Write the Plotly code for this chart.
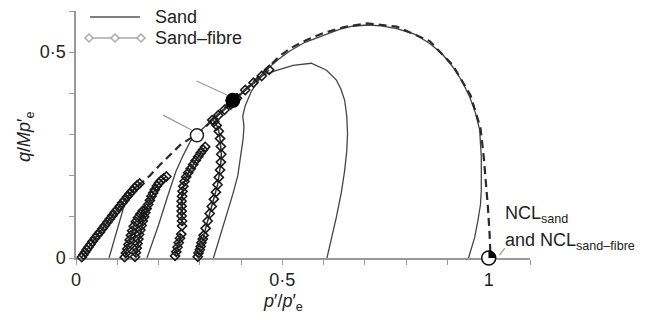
import plotly.graph_objects as go

# ---------------- data ----------------
# Sand (solid lines)
sand1_p = [0.080, 0.092, 0.104, 0.116, 0.128, 0.142, 0.156]
sand1_q = [0.000, 0.040, 0.085, 0.125, 0.150, 0.168, 0.183]

sand2_p = [0.172, 0.200, 0.222, 0.242, 0.260, 0.278, 0.300, 0.340, 0.380, 0.410, 0.440]
sand2_q = [0.000, 0.080, 0.150, 0.210, 0.250, 0.285, 0.308, 0.345, 0.383, 0.410, 0.432]

sand3_p = [0.333, 0.350, 0.366, 0.380, 0.392, 0.400, 0.405, 0.407, 0.404, 0.410, 0.425, 0.445]
sand3_q = [0.000, 0.055, 0.110, 0.155, 0.200, 0.250, 0.290, 0.320, 0.345, 0.370, 0.405, 0.435]

sand4_p = [0.608, 0.620, 0.631, 0.643, 0.651, 0.656, 0.658, 0.656, 0.651, 0.642, 0.631, 0.607,
           0.570, 0.526, 0.486, 0.453, 0.430, 0.400]
sand4_q = [0.000, 0.050, 0.100, 0.160, 0.213, 0.260, 0.302, 0.345, 0.383, 0.410, 0.432, 0.456,
           0.473, 0.468, 0.456, 0.444, 0.425, 0.398]

sand5_p = [0.951, 0.966, 0.974, 0.980, 0.982, 0.982, 0.978, 0.968, 0.954, 0.935, 0.913, 0.887,
           0.857, 0.820, 0.777, 0.740, 0.705, 0.670, 0.640, 0.598, 0.555, 0.518, 0.490, 0.465,
           0.440, 0.415, 0.395]
sand5_q = [0.000, 0.050, 0.092, 0.130, 0.165, 0.246, 0.311, 0.352, 0.391, 0.430, 0.464, 0.496,
           0.521, 0.544, 0.557, 0.564, 0.566, 0.563, 0.556, 0.541, 0.524, 0.503, 0.482, 0.460,
           0.436, 0.412, 0.394]

# Sand-fibre (lines with open diamonds)
fib1_p = [0.014, 0.018, 0.022, 0.026, 0.030, 0.035, 0.040, 0.046, 0.052, 0.058, 0.064, 0.070, 0.076,
          0.082, 0.088, 0.094, 0.100, 0.106, 0.112, 0.118, 0.124, 0.130, 0.136, 0.142, 0.148, 0.154]
fib1_q = [0.002, 0.008, 0.014, 0.020, 0.026, 0.033, 0.040, 0.048, 0.056, 0.063, 0.071, 0.079, 0.087,
          0.095, 0.103, 0.111, 0.118, 0.126, 0.134, 0.141, 0.149, 0.156, 0.163, 0.170, 0.176, 0.181]

fib2_p = [0.118, 0.121, 0.124, 0.127, 0.130, 0.133, 0.136, 0.140, 0.145, 0.150, 0.156, 0.162]
fib2_q = [0.002, 0.012, 0.022, 0.033, 0.044, 0.055, 0.066, 0.077, 0.088, 0.098, 0.107, 0.115]

fib3_p = [0.143, 0.145, 0.147, 0.149, 0.151, 0.153, 0.156, 0.159, 0.162, 0.165, 0.168, 0.171, 0.175,
          0.179, 0.183, 0.187, 0.191, 0.196, 0.201, 0.206, 0.212, 0.219]
fib3_q = [0.003, 0.013, 0.024, 0.035, 0.046, 0.057, 0.068, 0.079, 0.090, 0.100, 0.110, 0.120, 0.130,
          0.140, 0.150, 0.158, 0.166, 0.175, 0.182, 0.188, 0.193, 0.198]

fib4_p = [0.240, 0.243, 0.246, 0.249, 0.252, 0.255, None, 0.257, 0.257, 0.256, 0.256, 0.256, 0.256,
          0.257, 0.258, 0.260, 0.263, 0.267, 0.272, 0.278, 0.284, 0.290, 0.296, 0.302, 0.308, 0.313]
fib4_q = [0.005, 0.015, 0.026, 0.037, 0.048, 0.058, None, 0.078, 0.090, 0.102, 0.114, 0.126, 0.138,
          0.150, 0.162, 0.174, 0.186, 0.197, 0.207, 0.217, 0.227, 0.237, 0.246, 0.255, 0.263, 0.270]

fib5_p = [0.295, 0.297, 0.300, 0.302, 0.304, 0.307, 0.309, 0.314, 0.319, 0.324, 0.329, 0.334, 0.339,
          0.343, 0.346, 0.349, 0.351, 0.352, 0.351, 0.349, 0.346, 0.341, 0.335, 0.330, 0.345, 0.360,
          0.375, 0.390, 0.410, 0.430, 0.450, 0.468]
fib5_q = [0.003, 0.012, 0.020, 0.028, 0.037, 0.046, 0.055, 0.072, 0.090, 0.108, 0.125, 0.143, 0.160,
          0.178, 0.196, 0.214, 0.233, 0.252, 0.271, 0.290, 0.308, 0.322, 0.332, 0.335, 0.347, 0.360,
          0.373, 0.388, 0.408, 0.426, 0.442, 0.457]

# Sand-fibre boundary (dashed)
bound_p = [0.150, 0.179, 0.203, 0.252, 0.276, 0.293, 0.330, 0.380, 0.420, 0.455, 0.490, 0.518, 0.560,
           0.598, 0.650, 0.705, 0.777, 0.857, 0.913, 0.956, 0.980, 0.988, 0.994, 0.998, 1.002, 1.004]
bound_q = [0.175, 0.200, 0.226, 0.274, 0.290, 0.298, 0.335, 0.383, 0.418, 0.452, 0.487, 0.509, 0.530,
           0.546, 0.561, 0.570, 0.562, 0.527, 0.468, 0.395, 0.316, 0.245, 0.180, 0.124, 0.060, 0.010]

# Highlighted points
filled_p, filled_q = [0.380], [0.383]
open_p, open_q = [0.293], [0.298]
ncl_p, ncl_q = [1.0], [0.0]

# Pointer lines (from, to)
ptr_filled = [(0.292, 0.430), (0.366, 0.396)]
ptr_open = [(0.211, 0.347), (0.280, 0.311)]
ptr_ncl = [(1.039, 0.024), (1.026, 0.007)]

# Axis ticks
x_tickvals = [0, 0.1, 0.2, 0.3, 0.4, 0.5, 0.6, 0.7, 0.8, 0.9, 1.0, 1.1]
x_ticktext = ["0", "", "", "", "", "0·5", "", "", "", "", "1", ""]
y_tickvals = [0, 0.1, 0.2, 0.3, 0.4, 0.5, 0.6]
y_ticktext = ["0", "", "", "", "", "0·5", ""]

legend_names = ["Sand", "Sand–fibre"]

# ---------------- figure ----------------
FONT = "Liberation Sans, Arial, sans-serif"
TXT = "#222222"
SAND_C = "#444444"
FIB_C = "#1a1a1a"

# plot area in page pixels: x 76..530, y 11..258 (page has an 8px body offset)
PL, PR, PT, PB = 76, 530, 11, 258


def sx(X):
    return (X - PL) / (PR - PL)


def sy(Y):
    return (PB - Y) / (PB - PT)


fig = go.Figure()

for px_, qy_ in [(sand1_p, sand1_q), (sand2_p, sand2_q), (sand3_p, sand3_q),
                 (sand4_p, sand4_q), (sand5_p, sand5_q)]:
    fig.add_trace(go.Scatter(x=px_, y=qy_, mode="lines", showlegend=False,
                             line=dict(color=SAND_C, width=1.3), cliponaxis=False,
                             hoverinfo="skip"))

fig.add_trace(go.Scatter(x=bound_p, y=bound_q, mode="lines", showlegend=False,
                         line=dict(color="#2a2a2a", width=2.2, dash="8px,5px"),
                         cliponaxis=False, hoverinfo="skip"))

for px_, qy_ in [(fib1_p, fib1_q), (fib2_p, fib2_q), (fib3_p, fib3_q),
                 (fib4_p, fib4_q), (fib5_p, fib5_q)]:
    fig.add_trace(go.Scatter(x=px_, y=qy_, mode="lines+markers", showlegend=False,
                             line=dict(color="#333333", width=1.5),
                             marker=dict(symbol="diamond-open", size=7, color=FIB_C,
                                         line=dict(width=1.6, color=FIB_C)),
                             cliponaxis=False, connectgaps=False, hoverinfo="skip"))

# highlighted points
fig.add_trace(go.Scatter(x=open_p, y=open_q, mode="markers", showlegend=False,
                         marker=dict(symbol="circle", size=13, color="white",
                                     line=dict(color="#222222", width=1.5)),
                         cliponaxis=False, hoverinfo="skip"))
fig.add_trace(go.Scatter(x=filled_p, y=filled_q, mode="markers", showlegend=False,
                         marker=dict(symbol="circle", size=15, color="black"),
                         cliponaxis=False, hoverinfo="skip"))
fig.add_trace(go.Scatter(x=ncl_p, y=ncl_q, mode="markers", showlegend=False,
                         marker=dict(symbol="circle", size=14, color="white",
                                     line=dict(color="#111111", width=1.5)),
                         cliponaxis=False, hoverinfo="skip"))

shapes = []
for (a, b) in [ptr_filled, ptr_open, ptr_ncl]:
    shapes.append(dict(type="line", xref="x", yref="y", x0=a[0], y0=a[1], x1=b[0], y1=b[1],
                       line=dict(color="#999999", width=1.2), layer="above"))
# right half of the NCL marker filled black
shapes.append(dict(type="path", xref="x", yref="y", xsizemode="pixel", ysizemode="pixel",
                   xanchor=ncl_p[0], yanchor=ncl_q[0],
                   path="M 0,-7 C 3.9,-7 7,-3.9 7,0 C 7,3.9 3.9,7 0,7 Z",
                   fillcolor="black", line=dict(color="black", width=0.5), layer="above"))

# hand-drawn legend (symbols)
shapes.append(dict(type="line", xref="paper", yref="paper", x0=sx(90), x1=sx(140),
                   y0=sy(17), y1=sy(17), line=dict(color="#555555", width=1.5)))
shapes.append(dict(type="line", xref="paper", yref="paper", x0=sx(89), x1=sx(141),
                   y0=sy(38), y1=sy(38), line=dict(color="#aaaaaa", width=1.5)))
for X in (89, 115, 141):
    shapes.append(dict(type="path", xref="paper", yref="paper", xsizemode="pixel",
                       ysizemode="pixel", xanchor=sx(X), yanchor=sy(38),
                       path="M -4,0 L 0,4 L 4,0 L 0,-4 Z", fillcolor="white",
                       line=dict(color="#aaaaaa", width=1.5)))

annotations = [
    dict(text=legend_names[0], xref="paper", yref="paper", x=sx(153), y=sy(17),
         xanchor="left", yanchor="middle", showarrow=False,
         font=dict(family=FONT, size=18, color=TXT)),
    dict(text=legend_names[1], xref="paper", yref="paper", x=sx(153), y=sy(38),
         xanchor="left", yanchor="middle", showarrow=False,
         font=dict(family=FONT, size=18, color=TXT)),
    dict(text="NCL<sub>sand</sub>", xref="paper", yref="paper", x=sx(503),
         y=sy(214), xanchor="left", yanchor="middle", showarrow=False,
         font=dict(family=FONT, size=18, color=TXT)),
    dict(text="and NCL<sub>sand–fibre</sub>", xref="paper", yref="paper", x=sx(503),
         y=sy(241), xanchor="left", yanchor="middle", showarrow=False,
         font=dict(family=FONT, size=18, color=TXT)),
    dict(text="<i>q</i>/<i>Mp</i>′<sub>e</sub>", xref="paper", yref="paper",
         x=sx(25), y=sy(137), textangle=-90,
         xanchor="center", yanchor="middle", showarrow=False,
         font=dict(family=FONT, size=18, color=TXT)),
    dict(text="<i>p</i>′/<i>p</i>′<sub>e</sub>", xref="paper", yref="paper",
         x=sx(283), y=sy(302),
         xanchor="center", yanchor="middle", showarrow=False,
         font=dict(family=FONT, size=18, color=TXT)),
]

axis_common = dict(showline=True, linecolor="#999999", linewidth=1.5, ticks="outside",
                   ticklen=5, tickcolor="#999999", tickwidth=1.2, showgrid=False,
                   zeroline=False, tickfont=dict(family=FONT, size=18, color=TXT),
                   layer="below traces")

W, H = 648, 320
fig.update_layout(
    width=W, height=H, autosize=False,
    margin=dict(l=PL - 8, r=W - (PR - 8), t=PT - 8, b=H - (PB - 8), pad=0),
    paper_bgcolor="white", plot_bgcolor="white",
    font=dict(family=FONT, size=18, color=TXT),
    xaxis=dict(range=[0, 1.1], tickmode="array", tickvals=x_tickvals, ticktext=x_ticktext,
               **axis_common),
    yaxis=dict(range=[0, 0.6], tickmode="array", tickvals=y_tickvals, ticktext=y_ticktext,
               **axis_common),
    shapes=shapes, annotations=annotations, showlegend=False,
)

fig.write_html("out.html")
